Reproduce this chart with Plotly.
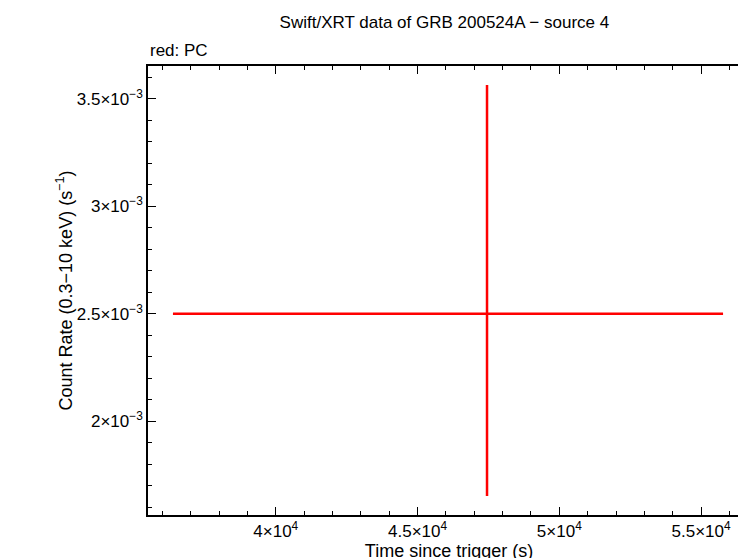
import plotly.graph_objects as go

x = [47450]
x_lo = [36373]
x_hi = [55775]
y = [2.5e-3]
y_lo = [1.651e-3]
y_hi = [3.565e-3]

xt = [40000, 45000, 50000, 55000]
xt_lab = ["4×10<sup>4</sup>", "4.5×10<sup>4</sup>", "5×10<sup>4</sup>", "5.5×10<sup>4</sup>"]
yt = [2.0e-3, 2.5e-3, 3.0e-3, 3.5e-3]
yt_lab = ["2×10<sup>−3</sup>", "2.5×10<sup>−3</sup>", "3×10<sup>−3</sup>", "3.5×10<sup>−3</sup>"]

fig = go.Figure(go.Scatter(
    x=x, y=y, mode="markers", marker=dict(size=1, color="red"),
    error_x=dict(type="data", symmetric=False, array=[x_hi[0]-x[0]], arrayminus=[x[0]-x_lo[0]],
                 color="red", thickness=2.5, width=0),
    error_y=dict(type="data", symmetric=False, array=[y_hi[0]-y[0]], arrayminus=[y[0]-y_lo[0]],
                 color="red", thickness=2.5, width=0),
))
ax = dict(showgrid=False, zeroline=False, showline=True, linecolor="black", linewidth=1.5,
          mirror="allticks", ticks="inside", ticklen=8, tickcolor="black", automargin=False,
          tickfont=dict(size=17, color="black"))
fig.update_xaxes(**ax, range=[35493, 56725], tickvals=xt, ticktext=xt_lab,
                 minor=dict(dtick=1000, ticks="inside", ticklen=4, tickcolor="black"),
                 title=dict(text="Time since trigger (s)", font=dict(size=18, color="black"), standoff=2))
fig.update_yaxes(**ax, range=[1.563e-3, 3.653e-3], tickvals=yt, ticktext=yt_lab,
                 minor=dict(dtick=1e-4, ticks="inside", ticklen=4, tickcolor="black"),
                 title=dict(text="Count Rate (0.3−10 keV) (s<sup>−1</sup>)", font=dict(size=18, color="black"), standoff=0))
fig.update_layout(
    width=746, height=558, plot_bgcolor="white", paper_bgcolor="white",
    font=dict(family="Liberation Sans, Arial", color="black"),
    margin=dict(l=140, r=4, t=58, b=51, autoexpand=False), showlegend=False,
    title=dict(text="Swift/XRT data of GRB 200524A − source 4", x=0.585, y=0.985, font=dict(size=17)),
    annotations=[dict(text="red: PC", xref="paper", yref="paper", x=0, y=1.01, xanchor="left",
                      yanchor="bottom", showarrow=False, font=dict(size=17, color="black"))],
)
fig.write_html("out.html")
